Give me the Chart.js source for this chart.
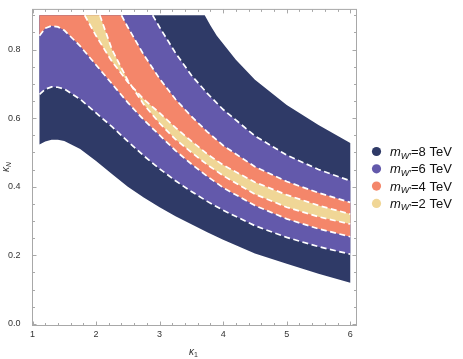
<!DOCTYPE html>
<html>
<head>
<meta charset="utf-8">
<script src="https://cdn.jsdelivr.net/npm/chart.js@4.4.1/dist/chart.umd.min.js"></script>
<style>
  html, body { margin: 0; padding: 0; background: #fff; }
  #c { display: block; }
</style>
</head>
<body>
<canvas id="c" width="463" height="359"></canvas>
<script>
// region edges, as [kappa1, kappaN]
const navyUpper = [[3.71, 0.9], [3.8, 0.87], [3.9, 0.84], [4.2, 0.77], [4.5, 0.712], [5.0, 0.638], [5.5, 0.58], [6.0, 0.527]];
const navyLower = [[1.11, 0.523], [1.2, 0.532], [1.3, 0.537], [1.4, 0.537], [1.5, 0.533], [1.75, 0.51], [2.0, 0.475],
  [2.25, 0.437], [2.5, 0.4], [2.75, 0.368], [3.0, 0.34], [3.25, 0.314], [3.5, 0.29], [3.75, 0.267], [4.0, 0.245],
  [4.5, 0.205], [5.0, 0.175], [5.5, 0.146], [6.0, 0.12]];
const purpleUpper = [[2.89, 0.9], [3.0, 0.865], [3.25, 0.79], [3.5, 0.725], [3.75, 0.672], [4.0, 0.625], [4.5, 0.548],
  [5.0, 0.492], [5.5, 0.45], [6.0, 0.417]];
const purpleLower = [[1.11, 0.669], [1.2, 0.684], [1.3, 0.691], [1.4, 0.69], [1.5, 0.685], [1.75, 0.655], [2.0, 0.615],
  [2.25, 0.575], [2.5, 0.532], [2.75, 0.49], [3.0, 0.452], [3.25, 0.417], [3.5, 0.386], [3.75, 0.357], [4.0, 0.331],
  [4.5, 0.286], [5.0, 0.252], [5.5, 0.225], [6.0, 0.203]];
const orangeUpper = [[2.4, 0.9], [2.5, 0.865], [2.75, 0.785], [3.0, 0.715], [3.25, 0.655], [3.5, 0.605], [3.75, 0.56],
  [4.0, 0.52], [4.5, 0.458], [5.0, 0.415], [5.5, 0.382], [6.0, 0.354]];
const orangeLower = [[1.11, 0.84], [1.2, 0.862], [1.3, 0.869], [1.4, 0.866], [1.5, 0.856], [1.75, 0.81], [2.0, 0.755],
  [2.25, 0.7], [2.5, 0.645], [2.75, 0.595], [3.0, 0.55], [3.25, 0.505], [3.5, 0.466], [3.75, 0.43], [4.0, 0.397],
  [4.5, 0.345], [5.0, 0.306], [5.5, 0.277], [6.0, 0.254]];
const yellowUpper = [[1.82, 0.9], [2.0, 0.84], [2.25, 0.765], [2.5, 0.705], [2.75, 0.655], [3.0, 0.615], [3.25, 0.572],
  [3.5, 0.533], [3.75, 0.495], [4.0, 0.463], [4.5, 0.413], [5.0, 0.376], [5.5, 0.345], [6.0, 0.32]];
const yellowLower = [[2.06, 0.9], [2.25, 0.8], [2.5, 0.71], [2.75, 0.64], [3.0, 0.585], [3.25, 0.538], [3.5, 0.5],
  [3.75, 0.464], [4.0, 0.432], [4.5, 0.378], [5.0, 0.34], [5.5, 0.312], [6.0, 0.291]];

const masses = [8, 6, 4, 2];
const bandColors = ['#2f3a67', '#6359ab', '#f4866a', '#f0d696'];
const xTicks = [1, 2, 3, 4, 5, 6];
const yTicks = [0, 0.2, 0.4, 0.6, 0.8];
const k1Min = 1.11, kNMax = 0.9;

const FONT = "'Liberation Sans', Arial, sans-serif";
const pts = arr => arr.map(p => ({ x: p[0], y: p[1] }));

// closed outline of one band; bands that touch the left edge start at its top corner
function outline(upper, lower, leftEdge) {
  const start = leftEdge ? [[k1Min, kNMax]] : [];
  return start.concat(upper, lower.slice().reverse());
}

const bands = [
  outline(navyUpper, navyLower, true),
  outline(purpleUpper, purpleLower, true),
  outline(orangeUpper, orangeLower, true),
  outline(yellowUpper, yellowLower, false)
];
const dashed = [purpleUpper, purpleLower, orangeUpper, orangeLower, yellowUpper, yellowLower];

const datasets = bands.map((b, i) => ({
  data: pts(b),
  fill: 'shape',
  backgroundColor: bandColors[i],
  borderColor: 'transparent',
  borderWidth: 0,
  pointRadius: 0,
  order: 10 - i
})).concat(dashed.map(c => ({
  data: pts(c),
  fill: false,
  borderColor: '#ffffff',
  borderWidth: 1.7,
  borderDash: [6, 3.5],
  pointRadius: 0,
  order: 0
})));

function rich(ctx, x, y, parts) {
  for (const p of parts) {
    ctx.font = p.font;
    ctx.fillText(p.t, x, y + (p.dy || 0));
    x += ctx.measureText(p.t).width + (p.gap || 0);
  }
}

const decor = {
  id: 'decor',
  afterDraw(chart) {
    const { ctx, chartArea: a, scales: { x, y } } = chart;
    ctx.save();
    ctx.strokeStyle = '#a8a8a8';
    ctx.lineWidth = 1;
    ctx.strokeRect(a.left, a.top, a.right - a.left, a.bottom - a.top);
    ctx.beginPath();
    for (let i = 0; i <= 25; i++) {
      const px = Math.round(x.getPixelForValue(1 + i * 0.2)) + 0.5;
      const len = i % 5 === 0 ? 4 : 2.5;
      ctx.moveTo(px, a.bottom); ctx.lineTo(px, a.bottom - len);
      ctx.moveTo(px, a.top); ctx.lineTo(px, a.top + len);
    }
    for (let i = 0; i <= 18; i++) {
      const py = Math.round(y.getPixelForValue(i * 0.05)) + 0.5;
      const len = i % 4 === 0 ? 4 : 2.5;
      ctx.moveTo(a.left, py); ctx.lineTo(a.left + len, py);
      ctx.moveTo(a.right, py); ctx.lineTo(a.right - len, py);
    }
    ctx.stroke();

    // axis titles
    ctx.fillStyle = '#333';
    ctx.textBaseline = 'alphabetic';
    rich(ctx, 189, 355, [
      { t: 'κ', font: 'italic 10px ' + FONT },
      { t: '1', font: '7px ' + FONT, dy: 2 }
    ]);
    ctx.save();
    ctx.translate(9, 172);
    ctx.rotate(-Math.PI / 2);
    rich(ctx, 0, 0, [
      { t: 'κ', font: 'italic 10px ' + FONT },
      { t: 'N', font: 'italic 7px ' + FONT, dy: 2 }
    ]);
    ctx.restore();

    // legend
    masses.forEach((m, i) => {
      const cy = 151.5 + i * 17.3;
      ctx.fillStyle = bandColors[i];
      ctx.beginPath();
      ctx.arc(376.5, cy, 4.6, 0, Math.PI * 2);
      ctx.fill();
      ctx.fillStyle = '#111';
      rich(ctx, 390, cy + 4.5, [
        { t: 'm', font: 'italic 13px ' + FONT },
        { t: 'W′', font: 'italic 9px ' + FONT, dy: 2.5 },
        { t: '=' + m + ' TeV', font: '13px ' + FONT }
      ]);
    });
    ctx.restore();
  }
};

new Chart(document.getElementById('c'), {
  type: 'line',
  data: { datasets },
  options: {
    responsive: false,
    animation: false,
    events: [],
    devicePixelRatio: 1,
    layout: { padding: { left: 0, right: 106.5, top: 3.5, bottom: 0 } },
    plugins: { legend: { display: false }, tooltip: { enabled: false } },
    scales: {
      x: {
        type: 'linear',
        min: 1.0,
        max: 6.098,
        afterFit: s => { s.height = 33.5; },
        afterBuildTicks: s => { s.ticks = xTicks.map(v => ({ value: v })); },
        grid: { display: false },
        border: { display: false },
        ticks: { font: { family: FONT, size: 9 }, color: '#333', padding: -4, maxRotation: 0 }
      },
      y: {
        min: -0.005,
        max: 0.917,
        afterFit: s => { s.width = 32.5; },
        afterBuildTicks: s => { s.ticks = yTicks.map(v => ({ value: v })); },
        grid: { display: false },
        border: { display: false },
        ticks: { font: { family: FONT, size: 9 }, color: '#333', padding: 4, callback: v => v.toFixed(1) }
      }
    }
  },
  plugins: [decor]
});
</script>
</body>
</html>
